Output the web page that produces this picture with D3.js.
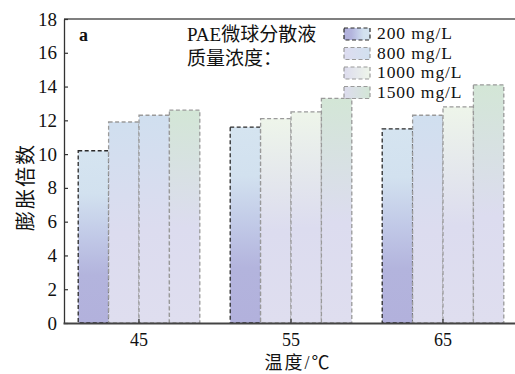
<!DOCTYPE html>
<html>
<head>
<meta charset="utf-8">
<script src="https://cdn.jsdelivr.net/npm/d3@7"></script>
<style>
  html, body { margin: 0; padding: 0; background: #fff; }
  svg { display: block; }
  svg text { font-family: "Liberation Serif", "Times New Roman", "Noto Sans CJK SC", serif; fill: #111; }
</style>
</head>
<body>
<svg id="chart" width="515" height="374"></svg>
<script>
// Swelling ratio of PAE microsphere dispersions at three temperatures
const temperatures = ["45", "55", "65"];
const concentrations = ["200 mg/L", "800 mg/L", "1000 mg/L", "1500 mg/L"];
const ratio200  = [10.2, 11.6, 11.5];
const ratio800  = [11.9, 12.1, 12.3];
const ratio1000 = [12.3, 12.5, 12.8];
const ratio1500 = [12.6, 13.3, 14.1];
const yTicks = [0, 2, 4, 6, 8, 10, 12, 14, 16, 18];

const seriesValues = [ratio200, ratio800, ratio1000, ratio1500];

const svg = d3.select("#chart");
const fontStack = '"Liberation Serif", "Times New Roman", "Noto Sans CJK SC", serif';
const margin = { left: 64, top: 19, bottom: 323, right: 519 };

const x = d3.scaleBand().domain(temperatures)
  .range([margin.left - 1, margin.right]).paddingInner(0.2).paddingOuter(0.1);
const xs = d3.scaleBand().domain(concentrations).range([0, x.bandwidth()]);
const y = d3.scaleLinear().domain([0, 18]).range([margin.bottom, margin.top]);

// Vertical gradients: lighter tint at the top of each bar fading to lavender below
const defs = svg.append("defs");
const tops = { blue: "#d0dfef", mint: "#eef5ea", green: "#d3e6d6" };
function makeGrad(id, stops, horizontal) {
  const g = defs.append("linearGradient").attr("id", id)
    .attr("x1", 0).attr("y1", 0)
    .attr("x2", horizontal ? 1 : 0).attr("y2", horizontal ? 0 : 1);
  stops.forEach(([o, c]) => g.append("stop").attr("offset", o).attr("stop-color", c));
}
const grad200 = [[0, "#d5e4f0"], [0.25, "#d2e1ef"], [0.5, "#c1c9e7"], [0.72, "#b3b4dd"], [1, "#b2b1dc"]];
function lightGrad(top) {
  return [[0, top], [0.55, "#dcdcef"], [1, "#dfdeef"]];
}
makeGrad("g200", grad200, false);
Object.entries(tops).forEach(([k, c]) => makeGrad("g" + k, lightGrad(c), false));
// Legend swatches run left (lavender) to right (tint)
makeGrad("l200", grad200.map(([o, c]) => [1 - o, c]).reverse(), true);
makeGrad("lblue", [[0, "#dddcf0"], [1, "#d2e1ef"]], true);
makeGrad("lmint", [[0, "#dddcee"], [1, "#eef5ea"]], true);
makeGrad("lgreen", [[0, "#dddcee"], [1, "#d3e6d6"]], true);

// Top tint per bar, by temperature group then concentration
const tintTable = [
  ["g200", "gblue", "gblue", "ggreen"],
  ["g200", "gmint", "gmint", "ggreen"],
  ["g200", "gblue", "gmint", "ggreen"]
];

// Bars
temperatures.forEach((t, gi) => {
  concentrations.forEach((c, si) => {
    const v = seriesValues[si][gi];
    svg.append("rect")
      .attr("x", x(t) + xs(c))
      .attr("y", y(v))
      .attr("width", xs.bandwidth())
      .attr("height", y(0) - y(v))
      .attr("fill", `url(#${tintTable[gi][si]})`)
      .attr("stroke", si === 0 ? "#2a2a2a" : "#9a9a9a")
      .attr("stroke-width", 1.3)
      .attr("stroke-dasharray", "4,2.5");
  });
});

// Frame: top border
svg.append("line").attr("x1", margin.left).attr("x2", 520)
  .attr("y1", margin.top).attr("y2", margin.top)
  .attr("stroke", "#555").attr("stroke-width", 1.5);

// Y axis with inward ticks
const yAxis = svg.append("g").attr("transform", `translate(${margin.left},0)`)
  .call(d3.axisLeft(y).tickValues(yTicks).tickSizeInner(-4).tickSizeOuter(0).tickPadding(7));
yAxis.attr("font-family", fontStack);
yAxis.select(".domain").attr("stroke", "#333").attr("stroke-width", 1.3);
yAxis.selectAll(".tick line").attr("stroke", "#333").attr("stroke-width", 1.2);
yAxis.selectAll("text").attr("font-size", 19).attr("fill", "#111");

// X axis with inward ticks at group centres
const xAxis = svg.append("g").attr("transform", `translate(0,${margin.bottom})`)
  .call(d3.axisBottom(x).tickSizeInner(-4).tickSizeOuter(0).tickPadding(10));
xAxis.attr("font-family", fontStack);
xAxis.select(".domain").attr("stroke", "#444").attr("stroke-width", 2);
xAxis.selectAll(".tick line").attr("stroke", "#333").attr("stroke-width", 1.2);
xAxis.selectAll("text").attr("font-size", 18).attr("fill", "#111");

// Axis titles
svg.append("text").attr("x", 298).attr("y", 369).attr("text-anchor", "middle")
  .attr("font-size", 18).attr("letter-spacing", 2).text("温度/℃");
svg.append("text").attr("transform", "translate(33,187) rotate(-90)")
  .attr("text-anchor", "middle").attr("font-size", 20).attr("letter-spacing", 2).text("膨胀倍数");

// Panel letter
svg.append("text").attr("x", 79).attr("y", 41).attr("font-size", 18).attr("font-weight", "bold").text("a");

// Legend
svg.append("text").attr("x", 187).attr("y", 41).attr("font-size", 19).text("PAE微球分散液");
svg.append("text").attr("x", 187).attr("y", 65).attr("font-size", 19).text("质量浓度：");
const legendFills = ["l200", "lblue", "lmint", "lgreen"];
const legend = svg.append("g");
concentrations.forEach((c, i) => {
  const cy = 34 + i * 19.5;
  legend.append("rect").attr("x", 344).attr("y", cy - 6).attr("width", 26).attr("height", 12)
    .attr("fill", `url(#${legendFills[i]})`)
    .attr("stroke", i === 0 ? "#2a2a2a" : "#9a9a9a").attr("stroke-width", 1.2)
    .attr("stroke-dasharray", "4,2.5");
  legend.append("text").attr("x", 377).attr("y", cy + 5).attr("font-size", 17.5)
    .attr("letter-spacing", 0.9).text(c);
});
</script>
</body>
</html>
